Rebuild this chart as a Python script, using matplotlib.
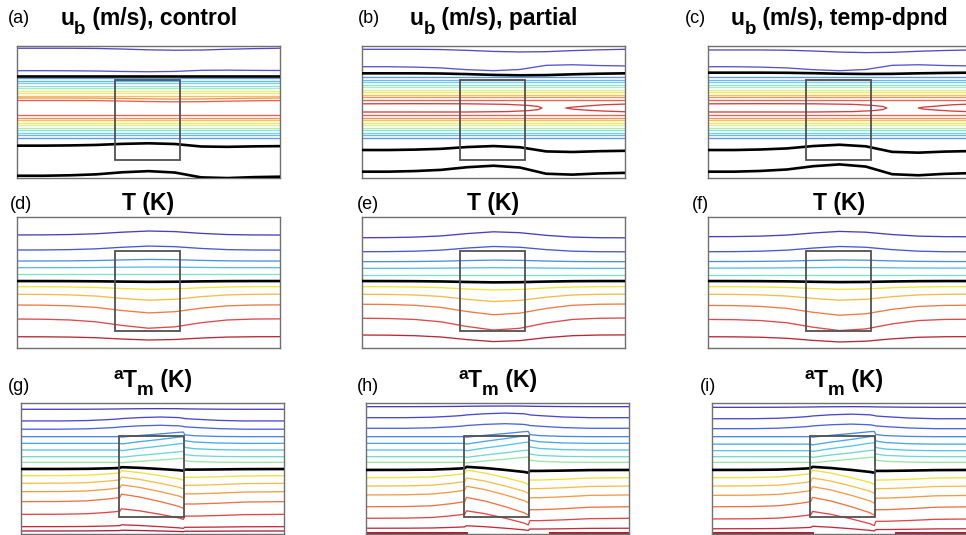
import numpy as np
import matplotlib
matplotlib.use("Agg")
import matplotlib.pyplot as plt
from matplotlib.patches import Rectangle

plt.rcParams["font.family"] = ["Liberation Sans", "DejaVu Sans"]

# ---- shapes of the contour deflections ----
X_SMOOTH = [0, 0.1, 0.2, 0.3, 0.4, 0.5, 0.6, 0.7, 0.8, 0.9, 1.0]
UB_BUMP = [0, 0, 0.1, 0.3, 0.75, 1.0, 0.7, -0.35, -0.5, -0.3, -0.2]
UB_DIP = [0, 0, 0, 0.1, 0.4, 0.8, 1.0, 0.9, 0.5, 0.2, 0]
T_BUMP = [0, 0.02, 0.1, 0.3, 0.7, 1.0, 0.85, 0.4, 0.1, 0, -0.02]

X_STEP = [0, 0.15, 0.25, 0.32, 0.36, 0.376, 0.382, 0.45, 0.53, 0.6, 0.617, 0.623, 0.66, 0.75, 0.85, 1.0]
TM_STEP = [0, 0.02, 0.1, 0.3, 0.45, 0.55, 0.95, 0.6, 0.0, -0.6, -0.85, -0.3, -0.3, -0.2, -0.05, 0]
TM_RAMP = [0, 0, 0, 0, 0, 0, -0.1, 0.25, 0.6, 0.95, 1.0, 0.4, 0.2, 0.05, 0, 0]
TM_BUMP = [0, 0, 0.1, 0.3, 0.45, 0.55, 0.6, 0.85, 1.0, 0.85, 0.7, 0.6, 0.45, 0.15, 0, 0]

# ---- row 1: u_b ----
BAND = ["#5c9ae6", "#66baf0", "#74d2f0", "#8ee2d8", "#aeecb4",
        "#d8f090", "#f6e464", "#f8c054", "#f29454", "#e86050"]
UB_COLORS = ["#5448c4", "#5654cc", "black"] + BAND + BAND[::-1] + ["black", "black"]
UB_SHAPE = ["dip", "bump", "dip"] + ["dip"] * 20 + ["bump", "bump"]

ub_base_control = [0.983, 0.813, 0.773,
                   0.754, 0.736, 0.717, 0.699, 0.680, 0.662, 0.643, 0.625, 0.606, 0.587,
                   0.477, 0.458, 0.439, 0.419, 0.400, 0.380, 0.361, 0.342, 0.323, 0.303,
                   0.245, 0.017]
ub_amp_control = [-0.015, -0.008, 0.0,
                  0, 0, 0, 0, 0, 0, 0, 0, -0.008, -0.01,
                  0, 0, 0, 0, 0, 0, 0, 0, 0, 0,
                  0.018, 0.035]
ub_base_partial = [0.975, 0.843, 0.793,
                   0.763, 0.744, 0.725, 0.706, 0.686, 0.667, 0.648, 0.630, 0.610, 0.591,
                   0.477, 0.458, 0.439, 0.419, 0.400, 0.380, 0.361, 0.342, 0.323, 0.303,
                   0.212, 0.048]
ub_amp_partial = [-0.02, -0.03, -0.015,
                  0, 0, 0, 0, 0, 0, 0, 0, 0, 0,
                  0, 0, 0, 0, 0, 0, 0, 0, 0, 0,
                  0.03, 0.045]
ub_base_tempdpnd = [0.970, 0.843, 0.798,
                    0.763, 0.744, 0.725, 0.706, 0.686, 0.667, 0.648, 0.630, 0.610, 0.591,
                    0.477, 0.458, 0.439, 0.419, 0.400, 0.380, 0.361, 0.342, 0.323, 0.303,
                    0.212, 0.048]
ub_amp_tempdpnd = [-0.02, -0.03, -0.01,
                   0, 0, 0, 0, 0, 0, 0, 0, 0, 0,
                   0, 0, 0, 0, 0, 0, 0, 0, 0, 0,
                   0.04, 0.055]

# closed red contours (partial / temp-dpnd)
loop_x_partial = [0, 0.2, 0.4, 0.55, 0.63, 0.67, 0.684, 0.67, 0.63, 0.55, 0.4, 0.2, 0]
loop_x_tempdpnd = [0, 0.2, 0.4, 0.55, 0.625, 0.665, 0.68, 0.665, 0.625, 0.55, 0.4, 0.2, 0]
loop_y = [0.562, 0.563, 0.562, 0.558, 0.55, 0.542, 0.53, 0.518, 0.51, 0.503, 0.5, 0.5, 0.5]
tongue_x_partial = [1.0, 0.92, 0.85, 0.8, 0.775, 0.8, 0.85, 0.92, 1.0]
tongue_x_tempdpnd = [1.0, 0.93, 0.87, 0.82, 0.80, 0.82, 0.87, 0.93, 1.0]
tongue_y = [0.56, 0.555, 0.545, 0.537, 0.53, 0.522, 0.514, 0.507, 0.502]

# ---- row 2: T ----
T_COLORS = ["#4a3cc4", "#4a56d6", "#4a90e6", "#56bcee", "#80e2c4", "black",
            "#f2e23a", "#f2bc48", "#ec7c44", "#dc4a4a", "#b8283a"]
t_base_control = [0.863, 0.748, 0.664, 0.613, 0.563, 0.511, 0.468, 0.410, 0.328, 0.221, 0.086]
t_amp_control = [0.03, 0.03, 0.012, 0.005, 0, -0.006, -0.02, -0.045, -0.06, -0.07, -0.025]
t_base_partial = [0.842, 0.735, 0.659, 0.608, 0.557, 0.511, 0.468, 0.410, 0.334, 0.227, 0.099]
t_amp_partial = [0.045, 0.04, 0.012, 0.005, 0, -0.01, -0.025, -0.055, -0.08, -0.09, -0.05]
t_base_tempdpnd = [0.850, 0.735, 0.660, 0.610, 0.560, 0.511, 0.468, 0.410, 0.325, 0.218, 0.086]
t_amp_tempdpnd = [0.04, 0.04, 0.012, 0.005, 0, -0.008, -0.02, -0.045, -0.075, -0.085, -0.04]

# ---- row 3: aTm ----
TM_COLORS = ["#4a3cc0", "#4a48d0", "#4a64dc", "#4a86e6", "#4aa6ee", "#56c4ec", "#70d8d0",
             "#9ae4a8", "black", "#f0e040", "#f2c048", "#f29c48", "#ec7444", "#e04848",
             "#c42c3c", "#a82036"]
TM_SHAPE = ["bump", "bump", "bump", "ramp", "ramp", "ramp", "ramp", "ramp",
            "step", "step", "step", "step", "step", "step", "step", "step"]
tm_base_control = [0.952, 0.863, 0.800, 0.743, 0.692, 0.641, 0.590, 0.547,
                   0.496, 0.445, 0.387, 0.323, 0.247, 0.150, 0.056, 0.023]
tm_amp_control = [0.005, 0.03, 0.03, 0.035, 0.05, 0.05, 0.04, 0.03,
                  0.015, 0.04, 0.05, 0.055, 0.06, 0.045, 0.015, 0.006]
tm_base_partial = [0.972, 0.888, 0.807, 0.743, 0.692, 0.641, 0.590, 0.547,
                   0.489, 0.430, 0.366, 0.298, 0.208, 0.120, 0.044]
tm_amp_partial = [0.005, 0.035, 0.035, 0.04, 0.06, 0.06, 0.05, 0.04,
                  0.025, 0.06, 0.065, 0.07, 0.075, 0.06, 0.02]
tm_base_tempdpnd = [0.967, 0.880, 0.804, 0.743, 0.686, 0.636, 0.590, 0.547,
                    0.489, 0.430, 0.366, 0.295, 0.208, 0.115, 0.040]
tm_amp_tempdpnd = [0.005, 0.035, 0.035, 0.04, 0.06, 0.06, 0.05, 0.04,
                   0.025, 0.06, 0.065, 0.07, 0.075, 0.06, 0.02]
tm_floor_x = [[0, 0.38], [0.70, 1.0]]
tm_floor_y = 0.006

# ---- titles: pieces of (text, size, baseline shift in px) ----
UB_TITLE = [("u", 16.5, 0), ("b", 13.5, -9), (" (m/s), ", 16.5, 0)]
UB_RUNS = ["control", "partial", "temp-dpnd"]
T_TITLE = [("T (K)", 16.5, 0)]
TM_TITLE = [("a", 12.5, 8), ("T", 16.5, 0), ("m", 13.5, -8), (" (K)", 16.5, 0)]

# ---- layout (pixel boxes) ----
W, H = 966, 535
COL_LEFT = [17, 362, 708]
ROW_TOP = [46, 217, 403]
ROW_HEIGHT = [132, 131, 131]
ROW3_SHIFT = 4
PANEL_W = 263
LABELS = [["(a)", "(b)", "(c)"], ["(d)", "(e)", "(f)"], ["(g)", "(h)", "(i)"]]
LABEL_X = [[8, 358, 685], [10, 357, 692], [8, 357, 700]]
LABEL_BASE = [23, 209, 391]
TITLE_BASE = [25, 210, 387]
BOX_X = (0.374, 0.618)
BOX_Y = [(0.136, 0.742), (0.13, 0.74), (0.13, 0.748)]

fig = plt.figure(figsize=(W / 100, H / 100), dpi=100)
renderer = fig.canvas.get_renderer()


def rich_title(xc, base_px, parts):
    texts = []
    for s, size, dy in parts:
        t = fig.text(0, 1 - (base_px - dy) / H, s, ha="left", va="baseline",
                     fontsize=size, fontweight="bold")
        texts.append(t)
    widths = [t.get_window_extent(renderer).width for t in texts]
    x = xc - sum(widths) / 2
    for t, w in zip(texts, widths):
        t.set_x(x / W)
        x += w


def add_panel(r, c, parts):
    left = COL_LEFT[c] + (ROW3_SHIFT if r == 2 else 0)
    top = ROW_TOP[r]
    h = ROW_HEIGHT[r]
    ax = fig.add_axes([left / W, 1 - (top + h) / H, PANEL_W / W, h / H])
    ax.set_xlim(0, 1)
    ax.set_ylim(0, 1)
    ax.set_xticks([])
    ax.set_yticks([])
    for s in ax.spines.values():
        s.set_color("#707070")
        s.set_linewidth(1.0)
    x0, x1 = BOX_X
    y0, y1 = BOX_Y[r]
    ax.add_patch(Rectangle((x0, y0), x1 - x0, y1 - y0, fill=False,
                           edgecolor="#505050", lw=1.3, zorder=5))
    rich_title(left + PANEL_W / 2, TITLE_BASE[r], parts)
    fig.text(LABEL_X[r][c] / W, 1 - LABEL_BASE[r] / H, LABELS[r][c],
             ha="left", va="baseline", fontsize=13)
    return ax


def draw(ax, xs, shapes, bases, amps, colors):
    for shp, b, a, col in zip(shapes, bases, amps, colors):
        y = b + a * np.asarray(shp)
        lw = 1.9 if col == "black" else 0.95
        ax.plot(xs, y, color=col, lw=lw, zorder=3 if col == "black" else 2)


# row 1
ub_sets = [(ub_base_control, ub_amp_control), (ub_base_partial, ub_amp_partial),
           (ub_base_tempdpnd, ub_amp_tempdpnd)]
loops = [None, (loop_x_partial, tongue_x_partial), (loop_x_tempdpnd, tongue_x_tempdpnd)]
for c in range(3):
    parts = UB_TITLE[:-1] + [(UB_TITLE[-1][0] + UB_RUNS[c], 16.5, 0)]
    ax = add_panel(0, c, parts)
    base, amp = ub_sets[c]
    shapes = [UB_BUMP if s == "bump" else UB_DIP for s in UB_SHAPE]
    draw(ax, X_SMOOTH, shapes, base, amp, UB_COLORS)
    if loops[c] is not None:
        lx, tx = loops[c]
        ax.plot(lx, loop_y, color="#d83c3c", lw=0.95)
        ax.plot(tx, tongue_y, color="#d83c3c", lw=0.95)

# row 2
t_sets = [(t_base_control, t_amp_control), (t_base_partial, t_amp_partial),
          (t_base_tempdpnd, t_amp_tempdpnd)]
for c in range(3):
    ax = add_panel(1, c, T_TITLE)
    base, amp = t_sets[c]
    draw(ax, X_SMOOTH, [T_BUMP] * len(base), base, amp, T_COLORS)

# row 3
tm_sets = [(tm_base_control, tm_amp_control), (tm_base_partial, tm_amp_partial),
           (tm_base_tempdpnd, tm_amp_tempdpnd)]
shape_map = {"bump": TM_BUMP, "ramp": TM_RAMP, "step": TM_STEP}
for c in range(3):
    ax = add_panel(2, c, TM_TITLE)
    base, amp = tm_sets[c]
    shapes = [shape_map[s] for s in TM_SHAPE[:len(base)]]
    draw(ax, X_STEP, shapes, base, amp, TM_COLORS[:len(base)])
    if c > 0:
        for seg in tm_floor_x:
            ax.plot(seg, [tm_floor_y, tm_floor_y], color="#a82036", lw=2.2)

fig.savefig("out.png", dpi=100)
